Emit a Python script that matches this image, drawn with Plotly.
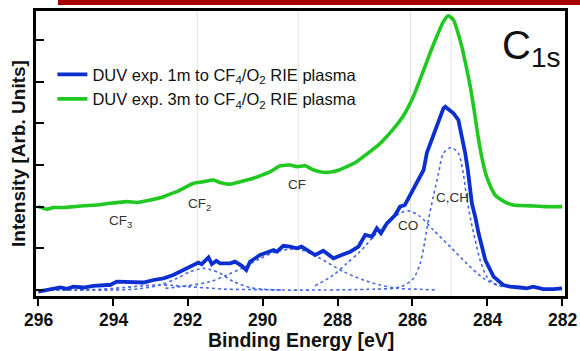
import plotly.graph_objects as go

# ---- data ----
blue_x = [296.0, 295.77, 295.59, 295.41, 295.23, 295.06, 294.79, 294.52, 294.16, 294.08, 293.9, 293.72,
          293.54, 293.19, 292.92, 292.65, 292.39, 292.16, 291.94, 291.72, 291.63, 291.45, 291.36, 291.24,
          291.14, 290.87, 290.74, 290.56, 290.44, 290.34, 290.07, 289.71, 289.62, 289.45, 289.27, 289.09,
          288.96, 288.82, 288.6, 288.38, 288.11, 287.89, 287.66, 287.44, 287.26, 287.08, 286.95, 286.84,
          286.68, 286.46, 286.33, 286.2, 285.97, 285.84, 285.7, 285.61, 285.43, 285.3, 285.17, 285.12,
          284.9, 284.77, 284.73, 284.64, 284.59, 284.52, 284.41, 284.32, 284.23, 284.05, 283.83, 283.57,
          283.39, 283.12, 282.94, 282.77, 282.59, 282.5, 282.23, 282.0]
blue_y = [-0.04, 0.0, 0.02, 0.06, 0.03, 0.08, 0.06, 0.10, 0.12, 0.12, 0.20, 0.19,
          0.18, 0.18, 0.24, 0.28, 0.36, 0.46, 0.56, 0.66, 0.62, 0.78, 0.62, 0.70,
          0.64, 0.64, 0.68, 0.58, 0.48, 0.68, 0.84, 0.96, 0.92, 1.06, 1.04, 1.0,
          1.04, 0.96, 0.84, 0.94, 0.76, 0.84, 0.92, 1.04, 1.32, 1.28, 1.48, 1.36,
          1.60, 1.80, 2.0, 2.04, 2.44, 2.62, 2.88, 3.30, 3.72, 4.0, 4.36, 4.40,
          4.24, 4.08, 3.92, 3.60, 3.30, 2.90, 2.08, 1.76, 1.36, 0.72, 0.32, 0.12,
          0.08, 0.06, 0.04, 0.08, 0.04, 0.02, 0.02, 0.04]

green_x = [296.0, 295.77, 295.59, 295.32, 295.06, 294.79, 294.43, 294.08, 293.63, 293.36, 293.0, 292.65,
           292.43, 292.29, 292.16, 291.85, 291.58, 291.32, 291.14, 290.87, 290.6, 290.34, 290.07, 289.8,
           289.53, 289.27, 289.09, 288.87, 288.64, 288.33, 288.02, 287.75, 287.49, 287.22, 286.86, 286.51,
           286.24, 285.97, 285.71, 285.53, 285.35, 285.17, 285.04, 284.9, 284.78, 284.67, 284.57, 284.46,
           284.35, 284.25, 284.14, 284.03, 283.92, 283.79, 283.58, 283.31, 282.85, 282.41, 282.0]
green_y = [2.0, 1.94, 1.98, 1.98, 2.0, 2.02, 2.04, 2.08, 2.12, 2.10, 2.16, 2.24,
           2.32, 2.36, 2.42, 2.56, 2.60, 2.64, 2.58, 2.54, 2.60, 2.66, 2.74, 2.84,
           2.98, 3.0, 2.96, 2.98, 2.88, 2.82, 2.86, 2.96, 3.08, 3.26, 3.52, 3.86,
           4.18, 4.65, 5.25, 5.68, 6.08, 6.44, 6.58, 6.48, 6.17, 5.81, 5.40, 4.92,
           4.32, 3.72, 3.17, 2.76, 2.50, 2.28, 2.14, 2.04, 2.02, 2.0, 2.0]

cf3_x = [296.0, 295.0, 294.3, 293.7, 293.2, 292.8, 292.4, 292.0, 291.5, 291.0, 290.3, 289.5]
cf3_y = [0.0, 0.0, 0.02, 0.06, 0.10, 0.12, 0.11, 0.08, 0.05, 0.02, 0.01, 0.0]

cf2_x = [296.0, 294.0, 293.3, 292.74, 292.29, 291.94, 291.72, 291.58, 291.4, 291.14, 290.78, 290.34, 289.98, 289.5, 288.3]
cf2_y = [0.0, 0.0, 0.03, 0.12, 0.28, 0.44, 0.50, 0.52, 0.49, 0.40, 0.20, 0.06, 0.02, 0.0, 0.0]

cf_x = [292.6, 292.03, 291.4, 290.96, 290.51, 290.1, 289.7, 289.3, 289.0, 288.55, 287.84, 287.31, 286.86, 286.42, 285.9, 285.35]
cf_y = [0.04, 0.10, 0.20, 0.36, 0.54, 0.74, 0.90, 0.98, 0.97, 0.80, 0.44, 0.24, 0.12, 0.04, 0.02, 0.0]

co_x = [288.6, 288.11, 287.75, 287.4, 287.04, 286.68, 286.33, 286.1, 285.79, 285.44, 284.99, 284.55, 284.1, 283.74, 283.66]
co_y = [0.10, 0.36, 0.64, 0.92, 1.28, 1.60, 1.84, 1.90, 1.76, 1.44, 1.04, 0.64, 0.28, 0.12, 0.10]

cch_x = [288.2, 287.0, 286.5, 286.33, 286.24, 285.97, 285.79, 285.66, 285.57, 285.44, 285.3, 285.17, 284.97,
         284.77, 284.64, 284.55, 284.44, 284.32, 284.19, 284.01, 283.74, 283.6]
cch_y = [0.0, 0.02, 0.04, 0.08, 0.10, 0.28, 0.64, 1.20, 1.68, 2.24, 2.80, 3.28, 3.42,
         3.28, 2.80, 2.24, 1.68, 1.20, 0.72, 0.32, 0.12, 0.08]

ref_lines = [291.75, 289.05, 286.05, 284.97]
x_ticks = [296, 294, 292, 290, 288, 286, 284, 282]
y_ticks = [0, 1, 2, 3, 4, 5, 6]

peak_labels = ["CF<sub>3</sub>", "CF<sub>2</sub>", "CF", "CO", "C,CH"]
peak_lx = [293.8, 291.7, 289.08, 286.11, 284.94]
peak_ly = [1.65, 2.06, 2.54, 1.54, 2.23]

BLUE = "rgb(12,48,208)"
GREEN = "rgb(34,200,34)"
FIT = "rgba(60,95,230,0.95)"
FONT = "Liberation Sans, Arial, sans-serif"

fig = go.Figure()

for cx, cy in [(cf3_x, cf3_y), (cf2_x, cf2_y), (cf_x, cf_y), (co_x, co_y), (cch_x, cch_y)]:
    fig.add_trace(go.Scatter(x=cx, y=cy, mode="lines", showlegend=False,
                             line=dict(color=FIT, width=1.6, dash="dot", shape="spline", smoothing=0.8),
                             hoverinfo="skip"))

fig.add_trace(go.Scatter(x=blue_x, y=blue_y, mode="lines",
                         name="DUV exp. 1m to CF<sub>4</sub>/O<sub>2</sub> RIE plasma",
                         line=dict(color=BLUE, width=3.8)))
fig.add_trace(go.Scatter(x=green_x, y=green_y, mode="lines",
                         name="DUV exp. 3m to CF<sub>4</sub>/O<sub>2</sub> RIE plasma",
                         line=dict(color=GREEN, width=3.6, shape="spline", smoothing=0.5)))

shapes = []
for rx in ref_lines:
    shapes.append(dict(type="line", xref="x", yref="paper", x0=rx, x1=rx, y0=0, y1=1,
                       line=dict(color="#e2e2e2", width=1), layer="below"))
# decorative red bar at top (slide crop)
shapes.append(dict(type="rect", xref="paper", yref="paper", x0=0.0416, x1=1.03, y0=1.021, y1=1.045,
                   fillcolor="#a40000", line=dict(width=0)))

annotations = [dict(x=lx, y=ly, xref="x", yref="y", text=t, showarrow=False,
                    font=dict(family=FONT, size=13.5, color="#333333"))
               for t, lx, ly in zip(peak_labels, peak_lx, peak_ly)]
annotations.append(dict(x=0.994, y=0.965, xref="paper", yref="paper", text="C<sub>1s</sub>",
                        showarrow=False, font=dict(family=FONT, size=40, color="#111111")))
# x tick labels and axis title placed as text below the axis
for tv in x_ticks:
    annotations.append(dict(x=tv, y=-0.0825, xref="x", yref="paper", text=f"<b>{tv}</b>",
                            showarrow=False, yanchor="middle",
                            font=dict(family=FONT, size=17.5, color="#111111")))
annotations.append(dict(x=0.5, y=-0.155, xref="paper", yref="paper", text="<b>Binding Energy [eV]</b>",
                        showarrow=False, yanchor="middle",
                        font=dict(family=FONT, size=19.5, color="#111111")))

fig.update_layout(
    width=580, height=351,
    margin=dict(l=36, r=15, t=11, b=55),
    paper_bgcolor="white", plot_bgcolor="white",
    font=dict(family=FONT, color="#111111"),
    showlegend=True,
    legend=dict(x=0.031, y=0.838, xanchor="left", yanchor="top", bgcolor="rgba(0,0,0,0)",
                font=dict(family=FONT, size=16.5, color="#111111"), itemwidth=30,
                tracegroupgap=0),
    shapes=shapes,
    annotations=annotations,
    xaxis=dict(range=[296.06, 281.92], tickvals=x_ticks, showticklabels=False,
               automargin=False,
               ticks="outside", ticklen=7, tickwidth=2, tickcolor="black",
               showline=True, linewidth=2.5, linecolor="black", mirror=True,
               showgrid=False, zeroline=False),
    yaxis=dict(range=[-0.144, 6.696], tickvals=y_ticks, showticklabels=False,
               automargin=False,
               ticks="inside", ticklen=8, tickwidth=2, tickcolor="black",
               showline=True, linewidth=2.5, linecolor="black", mirror=True,
               showgrid=False, zeroline=False,
               title=dict(text="Intensity [Arb. Units]", standoff=3,
                          font=dict(family=FONT, size=19, color="#111111", weight="bold"))),
)

fig.write_html("out.html")
